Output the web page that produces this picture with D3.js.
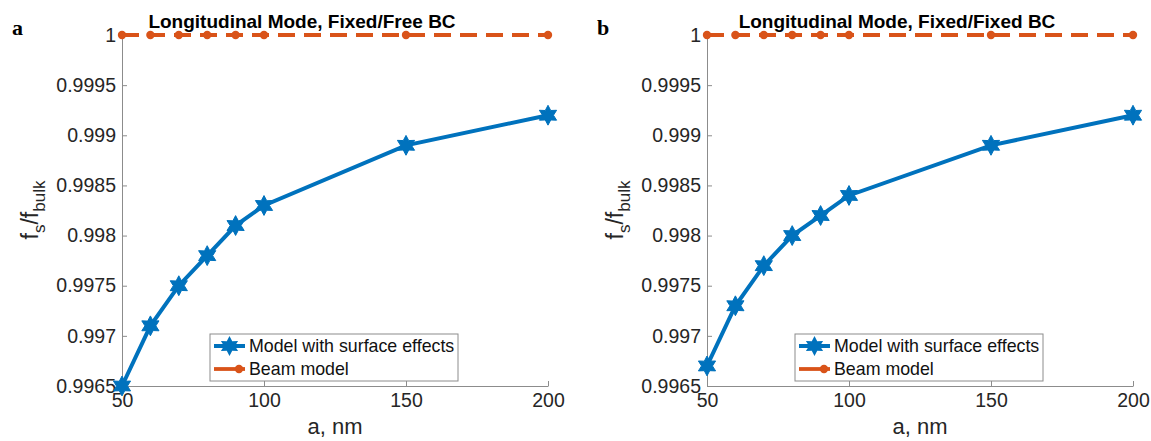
<!DOCTYPE html>
<html>
<head>
<meta charset="utf-8">
<script src="https://cdn.jsdelivr.net/npm/d3@7"></script>
<style>
  body { margin: 0; background: #fff; }
  svg { font-family: "Liberation Sans", Arial, sans-serif; }
</style>
</head>
<body>
<svg id="chart" width="1151" height="441"></svg>
<script>
// data
const sizes = [50, 60, 70, 80, 90, 100, 150, 200];
const surfaceFree = [0.9965, 0.9971, 0.9975, 0.9978, 0.9981, 0.9983, 0.9989, 0.9992];
const surfaceFixed = [0.9967, 0.9973, 0.9977, 0.9980, 0.9982, 0.9984, 0.9989, 0.9992];
const beamModel = [1, 1, 1, 1, 1, 1, 1, 1];
const yTicks = [0.9965, 0.997, 0.9975, 0.998, 0.9985, 0.999, 0.9995, 1];
const xTicks = [50, 100, 150, 200];
const titles = ["Longitudinal Mode, Fixed/Free BC", "Longitudinal Mode, Fixed/Fixed BC"];
const panelLetters = ["a", "b"];

const blue = "#0072BD", orange = "#D95319";

const svg = d3.select("#chart");

// six-pointed star like matlab 'h' marker
const hexagram = {
    draw(ctx, size) {
        const R = Math.sqrt(size) * 0.75, r = R * 0.55;
        for (let i = 0; i < 12; i++) {
            const a = -Math.PI / 2 + i * Math.PI / 6;
            const rr = i % 2 ? r : R;
            if (i === 0) ctx.moveTo(rr * Math.cos(a), rr * Math.sin(a));
            else ctx.lineTo(rr * Math.cos(a), rr * Math.sin(a));
        }
        ctx.closePath();
    }
};

function drawPanel(offsetX, surface, title, letter, titleX) {
    const x = d3.scaleLinear().domain([50, 200]).range([offsetX + 122, offsetX + 548]);
    const y = d3.scaleLinear().domain([0.9965, 1]).range([386, 35]);
    const g = svg.append("g");

    // axes, ticks pointing inward
    const yAxis = g.append("g")
        .attr("transform", `translate(${x(50)},0)`)
        .call(d3.axisLeft(y).tickValues(yTicks).tickSize(-5).tickSizeOuter(0)
            .tickFormat(d => d === 1 ? "1" : d3.format(".4~f")(d)));
    const xAxis = g.append("g")
        .attr("transform", `translate(0,${y(0.9965)})`)
        .call(d3.axisBottom(x).tickValues(xTicks).tickSize(-5).tickSizeOuter(0));
    [yAxis, xAxis].forEach(a => {
        a.select(".domain").attr("stroke", "#8c8c8c");
        a.selectAll(".tick line").attr("stroke", "#8c8c8c");
        a.selectAll(".tick text").attr("fill", "#262626").style("font-size", "19.5px");
    });
    yAxis.selectAll(".tick text").attr("x", -6);
    xAxis.selectAll(".tick text").attr("y", 7);

    // beam model, dashed with dots
    const beamLine = d3.line().x((d, i) => x(sizes[i])).y(d => y(d));
    g.append("path").datum(beamModel)
        .attr("d", beamLine)
        .attr("fill", "none").attr("stroke", orange)
        .attr("stroke-width", 3.8).attr("stroke-dasharray", "17,9");
    g.selectAll(".beamdot").data(beamModel).enter().append("circle")
        .attr("cx", (d, i) => x(sizes[i])).attr("cy", d => y(d))
        .attr("r", 4.2).attr("fill", orange);

    // model with surface effects
    const surfLine = d3.line().x((d, i) => x(sizes[i])).y(d => y(d));
    g.append("path").datum(surface)
        .attr("d", surfLine)
        .attr("fill", "none").attr("stroke", blue).attr("stroke-width", 4);
    g.selectAll(".star").data(surface).enter().append("path")
        .attr("transform", (d, i) => `translate(${x(sizes[i])},${y(d)})`)
        .attr("d", d3.symbol().type(hexagram).size(175))
        .attr("fill", blue).attr("stroke", blue).attr("stroke-width", 1);

    // title
    g.append("text")
        .attr("x", titleX).attr("y", 28)
        .attr("text-anchor", "middle")
        .style("font-size", "19px").style("font-weight", "bold")
        .text(title);

    // panel letter
    g.append("text")
        .attr("x", offsetX + 12).attr("y", 35)
        .style("font-family", "'Liberation Serif', 'Times New Roman', serif")
        .style("font-size", "22px").style("font-weight", "bold")
        .text(letter);

    // axis labels
    g.append("text")
        .attr("x", offsetX + 335).attr("y", 434)
        .attr("text-anchor", "middle")
        .style("font-size", "22px").attr("fill", "#262626")
        .text("a, nm");
    const yl = g.append("text")
        .attr("transform", `translate(${offsetX + 38},210) rotate(-90)`)
        .attr("text-anchor", "middle")
        .style("font-size", "23px").attr("fill", "#262626");
    yl.append("tspan").text("f");
    yl.append("tspan").attr("dy", 7).style("font-size", "17px").text("s");
    yl.append("tspan").attr("dy", -7).text("/f");
    yl.append("tspan").attr("dy", 7).style("font-size", "17px").text("bulk");

    // legend
    const lx = offsetX + 210, ly = 334;
    const legend = g.append("g");
    legend.append("rect")
        .attr("x", lx).attr("y", ly).attr("width", 248).attr("height", 47)
        .attr("fill", "#fff").attr("stroke", "#8c8c8c");
    legend.append("line")
        .attr("x1", lx + 4).attr("x2", lx + 35).attr("y1", ly + 12).attr("y2", ly + 12)
        .attr("stroke", blue).attr("stroke-width", 4);
    legend.append("path")
        .attr("transform", `translate(${lx + 19.5},${ly + 12})`)
        .attr("d", d3.symbol().type(hexagram).size(175))
        .attr("fill", blue);
    legend.append("line")
        .attr("x1", lx + 4).attr("x2", lx + 35).attr("y1", ly + 35).attr("y2", ly + 35)
        .attr("stroke", orange).attr("stroke-width", 3.8);
    legend.append("circle")
        .attr("cx", lx + 29).attr("cy", ly + 35).attr("r", 4.2).attr("fill", orange);
    legend.append("text")
        .attr("x", lx + 39).attr("y", ly + 18)
        .style("font-size", "17.8px").attr("fill", "#111")
        .text("Model with surface effects");
    legend.append("text")
        .attr("x", lx + 39).attr("y", ly + 41)
        .style("font-size", "17.8px").attr("fill", "#111")
        .text("Beam model");
}

drawPanel(0, surfaceFree, titles[0], panelLetters[0], 302);
drawPanel(585, surfaceFixed, titles[1], panelLetters[1], 897);
</script>
</body>
</html>
